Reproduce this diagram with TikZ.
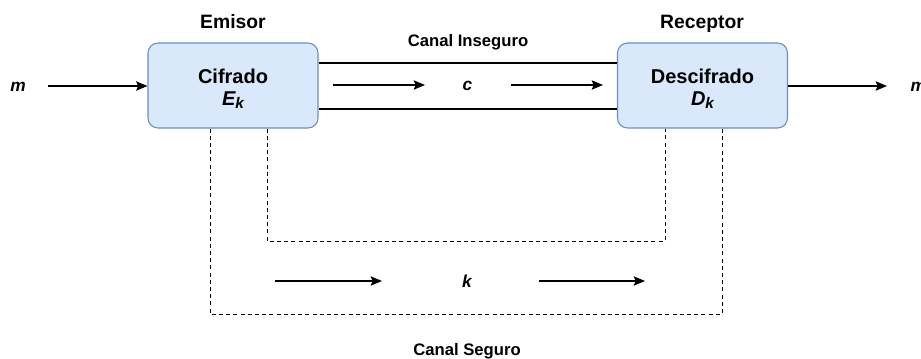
\documentclass[tikz,border=0pt]{standalone}
\usepackage{fontspec}
\setmainfont{Liberation Sans}
\usetikzlibrary{arrows.meta}
\definecolor{boxfill}{HTML}{DAE8FC}
\definecolor{boxline}{HTML}{6C8EBF}
\newcommand{\subk}{\raisebox{-0.3ex}{\fontsize{11.5}{12}\selectfont k}}
\begin{document}
\begin{tikzpicture}[x=0.75pt,y=-0.75pt,
  stagebox/.style={draw=boxline, fill=boxfill, line width=0.8pt,
    rounded corners=7.5pt, minimum width=127.5pt, minimum height=63.75pt, inner sep=0pt},
  stagetext/.style={align=center, font=\fontsize{15}{16.5}\selectfont\bfseries, inner sep=0pt},
  title/.style={anchor=base, font=\fontsize{14.5}{16}\selectfont\bfseries},
  chan/.style={anchor=base, font=\fontsize{12.5}{14}\selectfont\bfseries},
  sym/.style={anchor=base, font=\fontsize{13}{14}\selectfont\bfseries\itshape},
  wire/.style={line width=1pt},
  flow/.style={line width=1pt, -{Stealth[length=8.5pt,width=7pt,inset=1.5pt]}},
  keyline/.style={line width=0.75pt, dash pattern=on 3pt off 2.4pt}]
\useasboundingbox (0,0) rectangle (921,358);

% stages
\node[stagebox] (enc) at (233,85.5) {};
\node[stagebox] (dec) at (702.5,85.5) {};
\node[stagetext] (enct) at ([yshift=-2.5pt]enc.center) {Cifrado\\{\itshape E\subk}};
\node[stagetext] (dect) at ([yshift=-2.5pt]dec.center) {Descifrado\\{\itshape D\subk}};
\node[title] (emi) at (233,28) {Emisor};
\node[title] (rec) at (702,28) {Receptor};

% plaintext in and out
\node[sym] (min) at (18,91) {m};
\node[sym, anchor=base west] (mout) at (906,91) {m};
\coordinate (inL) at (48,86);
\coordinate (outR) at (887,86);
\draw[flow] (inL) -- (enc.west |- inL);
\draw[flow] (dec.east |- outR) -- (outR);

% insecure channel
\node[chan] (ins) at (468,46.5) {Canal Inseguro};
\coordinate (top) at (0,63);
\coordinate (bot) at (0,109);
\draw[wire] (enc.east |- top) -- (dec.west |- top);
\draw[wire] (enc.east |- bot) -- (dec.west |- bot);
\node[sym] (c) at (467.5,90.5) {c};
\coordinate (c1) at (333,85);
\coordinate (c2) at (425,85);
\coordinate (c3) at (511,85);
\coordinate (c4) at (603,85);
\draw[flow] (c1) -- (c2);
\draw[flow] (c3) -- (c4);

% secure channel
\coordinate (o1) at (210,314);
\coordinate (o2) at (722,314);
\coordinate (i1) at (267,241);
\coordinate (i2) at (665,241);
\draw[keyline] (enc.south -| o1) -- (o1) -- (o2) -- (dec.south -| o2);
\draw[keyline] (enc.south -| i1) -- (i1) -- (i2) -- (dec.south -| i2);
\node[sym] (k) at (467,287) {k};
\coordinate (k1) at (275,281);
\coordinate (k2) at (382,281);
\coordinate (k3) at (539,281);
\coordinate (k4) at (645,281);
\draw[flow] (k1) -- (k2);
\draw[flow] (k3) -- (k4);
\node[chan] (seg) at (467,355) {Canal Seguro};
\end{tikzpicture}
\end{document}
